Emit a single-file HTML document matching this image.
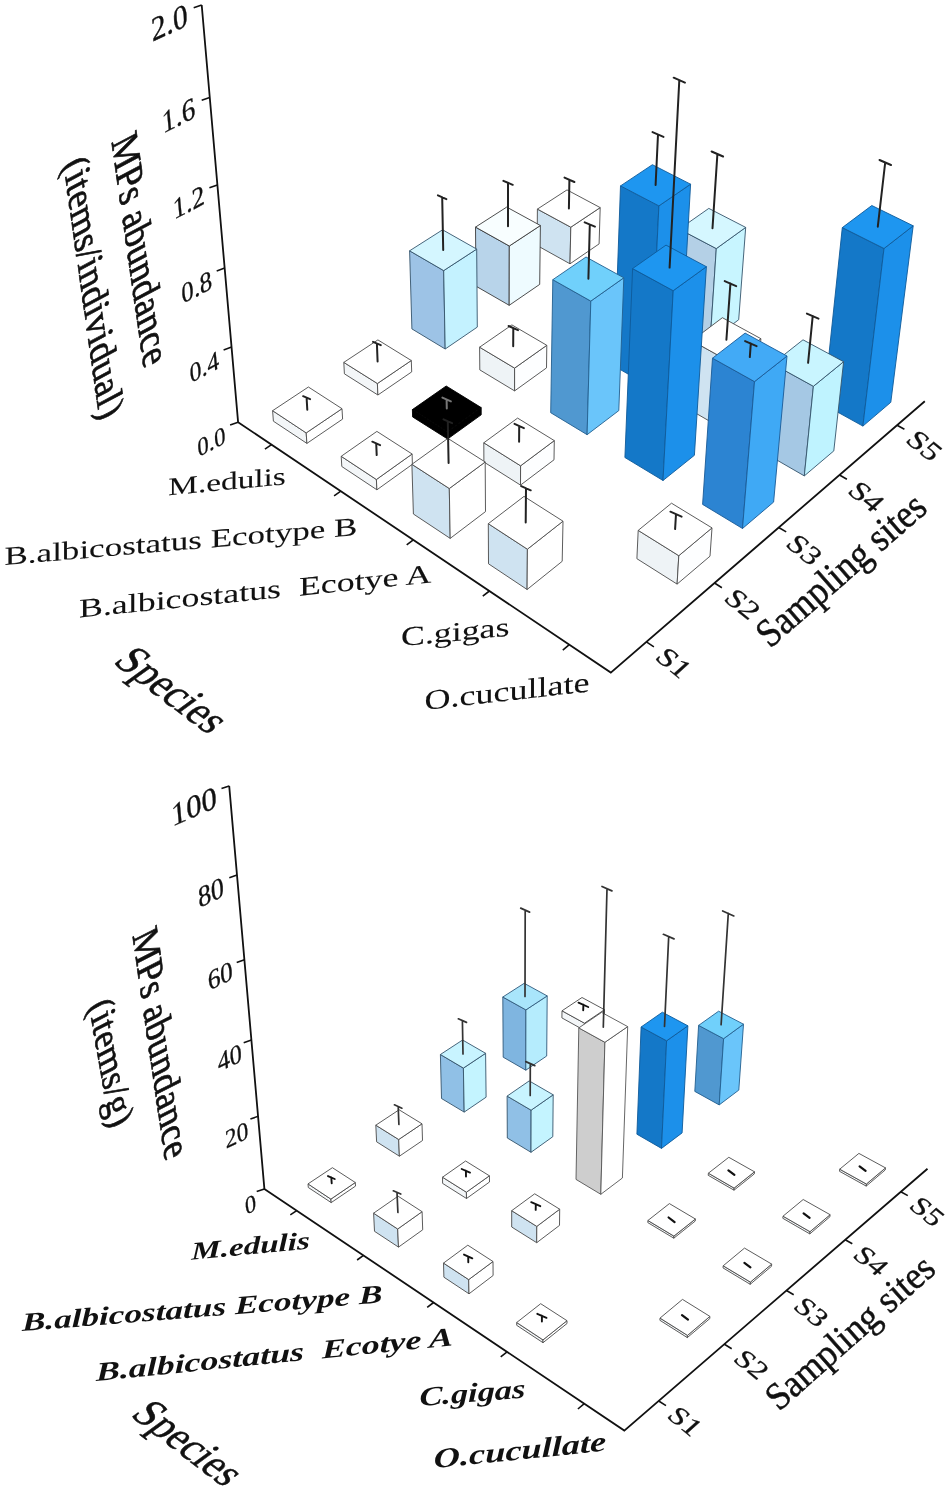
<!DOCTYPE html>
<html><head><meta charset="utf-8"><title>Figure</title>
<style>html,body{margin:0;padding:0;background:#fff}svg{display:block}text{font-family:"Liberation Serif",serif}</style></head>
<body><svg width="950" height="1491" viewBox="0 0 950 1491">
<rect width="950" height="1491" fill="#fff"/>
<path d="M201.7,5.0L238.1,422.2L610.8,672.6L924.8,401.3" stroke="#111" stroke-width="1.8" fill="none" stroke-linejoin="miter"/>
<path d="M238.1,422.2L230.1,425.0M231.6,347.1L223.6,349.9M224.7,268.1L216.7,270.9M217.4,184.9L209.4,187.7M209.7,97.4L201.7,100.2M201.7,5.0L193.7,7.8M271.6,444.7L264.9,449.2M340.8,491.2L334.1,495.9M413.3,539.9L406.7,544.9M489.4,591.0L482.8,596.2M569.3,644.7L562.8,650.2M646.4,641.9L653.9,646.8M714.5,583.0L721.9,587.7M778.7,527.5L786.2,531.9M839.5,475.0L846.9,479.2M897.1,425.2L904.4,429.2" stroke="#111" stroke-width="1.6" fill="none"/>
<polygon points="537.1,245.5 570.0,263.8 570.8,227.2 537.4,209.1" fill="#cfe3f1" stroke="#4a4a4a" stroke-width="0.9" stroke-linejoin="round"/>
<polygon points="570.0,263.8 599.1,243.9 600.2,207.6 570.8,227.2" fill="#ffffff" stroke="#4a4a4a" stroke-width="0.9" stroke-linejoin="round"/>
<polygon points="537.4,209.1 570.8,227.2 600.2,207.6 567.0,189.9" fill="#ffffff" stroke="#4a4a4a" stroke-width="0.9" stroke-linejoin="round"/>
<path d="M568.9,208.4L569.4,179.8M564.5,177.6L574.4,182.0" stroke="#222" stroke-width="2.0" fill="none" stroke-linecap="round"/>
<polygon points="476.0,286.2 509.2,305.3 509.3,246.0 475.5,227.1" fill="#b8d4ea" stroke="#3a3a3a" stroke-width="0.9" stroke-linejoin="round"/>
<polygon points="509.2,305.3 539.7,284.4 540.4,225.5 509.3,246.0" fill="#eefbff" stroke="#3a3a3a" stroke-width="0.9" stroke-linejoin="round"/>
<polygon points="475.5,227.1 509.3,246.0 540.4,225.5 506.7,207.1" fill="#f8feff" stroke="#3a3a3a" stroke-width="0.9" stroke-linejoin="round"/>
<path d="M508.0,226.3L508.0,182.8M503.4,180.8L512.7,184.8" stroke="#222" stroke-width="2.0" fill="none" stroke-linecap="round"/>
<polygon points="674.3,321.5 710.1,341.4 716.3,248.6 679.3,229.1" fill="#b4d0e6" stroke="#34536b" stroke-width="0.9" stroke-linejoin="round"/>
<polygon points="710.1,341.4 738.7,319.7 745.7,227.4 716.3,248.6" fill="#c8f5ff" stroke="#34536b" stroke-width="0.9" stroke-linejoin="round"/>
<polygon points="679.3,229.1 716.3,248.6 745.7,227.4 708.8,208.4" fill="#d5f7ff" stroke="#34536b" stroke-width="0.9" stroke-linejoin="round"/>
<path d="M712.5,228.3L717.4,154.0M711.6,151.5L723.1,156.5" stroke="#222" stroke-width="2.0" fill="none" stroke-linecap="round"/>
<polygon points="411.9,328.9 445.2,349.0 443.7,270.6 409.6,250.8" fill="#9dc3e6" stroke="#34536b" stroke-width="0.9" stroke-linejoin="round"/>
<polygon points="445.2,349.0 477.3,327.1 476.7,249.1 443.7,270.6" fill="#c4f2ff" stroke="#34536b" stroke-width="0.9" stroke-linejoin="round"/>
<polygon points="409.6,250.8 443.7,270.6 476.7,249.1 442.6,229.8" fill="#d4f6ff" stroke="#34536b" stroke-width="0.9" stroke-linejoin="round"/>
<path d="M443.2,250.0L442.2,197.2M437.9,195.3L446.4,199.1" stroke="#222" stroke-width="2.0" fill="none" stroke-linecap="round"/>
<polygon points="614.1,366.0 650.2,386.8 658.9,205.9 620.5,185.9" fill="#1478c8" stroke="#0f5a9a" stroke-width="0.9" stroke-linejoin="round"/>
<polygon points="650.2,386.8 680.3,364.0 690.6,184.2 658.9,205.9" fill="#1c90ea" stroke="#0f5a9a" stroke-width="0.9" stroke-linejoin="round"/>
<polygon points="620.5,185.9 658.9,205.9 690.6,184.2 652.4,164.7" fill="#1e96f0" stroke="#0f5a9a" stroke-width="0.9" stroke-linejoin="round"/>
<path d="M655.6,185.0L658.0,134.5M652.5,132.1L663.5,136.9" stroke="#222" stroke-width="2.0" fill="none" stroke-linecap="round"/>
<polygon points="479.8,369.9 514.6,390.9 514.6,368.1 479.6,347.2" fill="#eef3f6" stroke="#4a4a4a" stroke-width="0.9" stroke-linejoin="round"/>
<polygon points="514.6,390.9 546.5,367.9 546.8,345.3 514.6,368.1" fill="#fdfeff" stroke="#4a4a4a" stroke-width="0.9" stroke-linejoin="round"/>
<polygon points="479.6,347.2 514.6,368.1 546.8,345.3 511.9,324.9" fill="#ffffff" stroke="#4a4a4a" stroke-width="0.9" stroke-linejoin="round"/>
<path d="M513.2,346.2L513.3,328.1M508.6,326.0L518.0,330.2" stroke="#222" stroke-width="2.0" fill="none" stroke-linecap="round"/>
<polygon points="344.4,373.8 377.9,395.0 377.4,383.5 343.8,362.4" fill="#f3f6f8" stroke="#4a4a4a" stroke-width="0.9" stroke-linejoin="round"/>
<polygon points="377.9,395.0 411.7,371.9 411.3,360.5 377.4,383.5" fill="#ffffff" stroke="#4a4a4a" stroke-width="0.9" stroke-linejoin="round"/>
<polygon points="343.8,362.4 377.4,383.5 411.3,360.5 377.9,339.9" fill="#ffffff" stroke="#4a4a4a" stroke-width="0.9" stroke-linejoin="round"/>
<path d="M377.6,361.5L376.9,343.5M373.0,341.8L380.8,345.2" stroke="#222" stroke-width="2.0" fill="none" stroke-linecap="round"/>
<polygon points="823.7,404.4 862.9,426.1 884.0,248.5 842.3,227.6" fill="#1478c8" stroke="#0f5a9a" stroke-width="0.9" stroke-linejoin="round"/>
<polygon points="862.9,426.1 890.8,402.3 913.2,225.8 884.0,248.5" fill="#1c90ea" stroke="#0f5a9a" stroke-width="0.9" stroke-linejoin="round"/>
<polygon points="842.3,227.6 884.0,248.5 913.2,225.8 871.8,205.5" fill="#1e96f0" stroke="#0f5a9a" stroke-width="0.9" stroke-linejoin="round"/>
<path d="M877.8,226.7L885.2,162.5M879.5,160.0L891.0,165.0" stroke="#222" stroke-width="2.0" fill="none" stroke-linecap="round"/>
<polygon points="687.7,408.5 725.5,430.4 730.5,362.2 691.9,340.7" fill="#cfe3f1" stroke="#4a4a4a" stroke-width="0.9" stroke-linejoin="round"/>
<polygon points="725.5,430.4 755.3,406.5 760.9,338.7 730.5,362.2" fill="#ffffff" stroke="#4a4a4a" stroke-width="0.9" stroke-linejoin="round"/>
<polygon points="691.9,340.7 730.5,362.2 760.9,338.7 722.4,317.7" fill="#ffffff" stroke="#4a4a4a" stroke-width="0.9" stroke-linejoin="round"/>
<path d="M726.4,339.7L730.4,283.6M724.7,281.1L736.2,286.1" stroke="#222" stroke-width="2.0" fill="none" stroke-linecap="round"/>
<polygon points="550.7,412.7 587.1,434.7 590.8,301.1 552.8,279.7" fill="#5098d0" stroke="#235f8f" stroke-width="0.9" stroke-linejoin="round"/>
<polygon points="587.1,434.7 618.8,410.6 623.8,277.8 590.8,301.1" fill="#6ac5fa" stroke="#235f8f" stroke-width="0.9" stroke-linejoin="round"/>
<polygon points="552.8,279.7 590.8,301.1 623.8,277.8 586.0,257.0" fill="#70d0fb" stroke="#235f8f" stroke-width="0.9" stroke-linejoin="round"/>
<path d="M588.4,278.7L589.8,224.5M584.7,222.3L594.9,226.7" stroke="#222" stroke-width="2.0" fill="none" stroke-linecap="round"/>
<polygon points="412.6,416.9 447.6,439.0 447.4,431.7 412.4,409.6" fill="#000000" stroke="#000000" stroke-width="0.9" stroke-linejoin="round"/>
<polygon points="447.6,439.0 481.2,414.8 481.2,407.6 447.4,431.7" fill="#000000" stroke="#000000" stroke-width="0.9" stroke-linejoin="round"/>
<polygon points="412.4,409.6 447.4,431.7 481.2,407.6 446.2,386.0" fill="#000000" stroke="#000000" stroke-width="0.9" stroke-linejoin="round"/>
<path d="M446.8,408.6L446.6,399.5M442.4,397.6L450.9,401.4" stroke="#777" stroke-width="2.0" fill="none" stroke-linecap="round"/>
<polygon points="273.4,421.2 306.9,443.4 306.2,432.9 272.6,410.7" fill="#f3f6f8" stroke="#4a4a4a" stroke-width="0.9" stroke-linejoin="round"/>
<polygon points="306.9,443.4 342.6,419.1 342.0,408.7 306.2,432.9" fill="#ffffff" stroke="#4a4a4a" stroke-width="0.9" stroke-linejoin="round"/>
<polygon points="272.6,410.7 306.2,432.9 342.0,408.7 308.4,387.0" fill="#ffffff" stroke="#4a4a4a" stroke-width="0.9" stroke-linejoin="round"/>
<path d="M307.3,409.7L306.6,397.7M303.1,396.2L310.1,399.2" stroke="#222" stroke-width="2.0" fill="none" stroke-linecap="round"/>
<polygon points="764.8,453.1 804.3,475.9 813.4,386.3 772.6,363.8" fill="#a5c8e4" stroke="#34536b" stroke-width="0.9" stroke-linejoin="round"/>
<polygon points="804.3,475.9 833.8,450.9 843.6,361.7 813.4,386.3" fill="#bff3ff" stroke="#34536b" stroke-width="0.9" stroke-linejoin="round"/>
<polygon points="772.6,363.8 813.4,386.3 843.6,361.7 803.0,339.8" fill="#c9f5ff" stroke="#34536b" stroke-width="0.9" stroke-linejoin="round"/>
<path d="M808.1,362.8L812.7,316.1M806.9,313.6L818.5,318.6" stroke="#222" stroke-width="2.0" fill="none" stroke-linecap="round"/>
<polygon points="624.9,457.5 663.0,480.5 673.2,290.7 632.6,268.6" fill="#1478c8" stroke="#0f5a9a" stroke-width="0.9" stroke-linejoin="round"/>
<polygon points="663.0,480.5 694.4,455.3 706.4,266.7 673.2,290.7" fill="#1c90ea" stroke="#0f5a9a" stroke-width="0.9" stroke-linejoin="round"/>
<polygon points="632.6,268.6 673.2,290.7 706.4,266.7 666.0,245.1" fill="#1e96f0" stroke="#0f5a9a" stroke-width="0.9" stroke-linejoin="round"/>
<path d="M669.6,267.6L679.3,80.2M673.7,77.7L684.9,82.7" stroke="#222" stroke-width="2.0" fill="none" stroke-linecap="round"/>
<polygon points="483.9,462.0 520.5,485.1 520.6,465.8 483.8,442.8" fill="#eef3f6" stroke="#4a4a4a" stroke-width="0.9" stroke-linejoin="round"/>
<polygon points="520.5,485.1 554.0,459.8 554.3,440.6 520.6,465.8" fill="#fdfeff" stroke="#4a4a4a" stroke-width="0.9" stroke-linejoin="round"/>
<polygon points="483.8,442.8 520.6,465.8 554.3,440.6 517.6,418.1" fill="#ffffff" stroke="#4a4a4a" stroke-width="0.9" stroke-linejoin="round"/>
<path d="M519.1,441.7L519.2,426.0M514.5,423.9L523.9,428.1" stroke="#222" stroke-width="2.0" fill="none" stroke-linecap="round"/>
<polygon points="341.8,466.5 376.9,489.8 376.4,479.5 341.2,456.3" fill="#f3f6f8" stroke="#4a4a4a" stroke-width="0.9" stroke-linejoin="round"/>
<polygon points="376.9,489.8 412.4,464.3 412.1,454.0 376.4,479.5" fill="#ffffff" stroke="#4a4a4a" stroke-width="0.9" stroke-linejoin="round"/>
<polygon points="341.2,456.3 376.4,479.5 412.1,454.0 376.9,431.4" fill="#ffffff" stroke="#4a4a4a" stroke-width="0.9" stroke-linejoin="round"/>
<path d="M376.7,455.1L376.2,443.4M372.3,441.7L380.1,445.1" stroke="#222" stroke-width="2.0" fill="none" stroke-linecap="round"/>
<polygon points="702.6,504.4 742.5,528.5 754.5,381.6 712.5,358.2" fill="#2c84d2" stroke="#1a5a96" stroke-width="0.9" stroke-linejoin="round"/>
<polygon points="742.5,528.5 773.6,502.1 787.0,356.0 754.5,381.6" fill="#3fa9f5" stroke="#1a5a96" stroke-width="0.9" stroke-linejoin="round"/>
<polygon points="712.5,358.2 754.5,381.6 787.0,356.0 745.1,333.1" fill="#42aaf6" stroke="#1a5a96" stroke-width="0.9" stroke-linejoin="round"/>
<path d="M749.8,357.1L750.8,343.6M745.1,341.1L756.6,346.1" stroke="#222" stroke-width="2.0" fill="none" stroke-linecap="round"/>
<polygon points="413.4,514.0 450.2,538.4 449.3,488.5 411.9,464.3" fill="#cfe3f1" stroke="#4a4a4a" stroke-width="0.9" stroke-linejoin="round"/>
<polygon points="450.2,538.4 485.5,511.6 485.2,462.0 449.3,488.5" fill="#ffffff" stroke="#4a4a4a" stroke-width="0.9" stroke-linejoin="round"/>
<polygon points="411.9,464.3 449.3,488.5 485.2,462.0 447.9,438.4" fill="#ffffff" stroke="#4a4a4a" stroke-width="0.9" stroke-linejoin="round"/>
<path d="M448.6,463.1L447.8,421.2M443.5,419.3L452.1,423.1" stroke="#222" stroke-width="2.0" fill="none" stroke-linecap="round"/>
<polygon points="636.9,558.7 677.1,584.1 678.8,555.7 638.2,530.4" fill="#eef3f6" stroke="#4a4a4a" stroke-width="0.9" stroke-linejoin="round"/>
<polygon points="677.1,584.1 710.0,556.2 712.0,527.9 678.8,555.7" fill="#fdfeff" stroke="#4a4a4a" stroke-width="0.9" stroke-linejoin="round"/>
<polygon points="638.2,530.4 678.8,555.7 712.0,527.9 671.5,503.2" fill="#ffffff" stroke="#4a4a4a" stroke-width="0.9" stroke-linejoin="round"/>
<path d="M675.1,529.1L676.0,514.2M670.4,511.7L681.6,516.7" stroke="#222" stroke-width="2.0" fill="none" stroke-linecap="round"/>
<polygon points="488.5,563.8 527.1,589.5 527.4,549.2 488.3,523.7" fill="#cfe3f1" stroke="#4a4a4a" stroke-width="0.9" stroke-linejoin="round"/>
<polygon points="527.1,589.5 562.2,561.3 563.0,521.2 527.4,549.2" fill="#ffffff" stroke="#4a4a4a" stroke-width="0.9" stroke-linejoin="round"/>
<polygon points="488.3,523.7 527.4,549.2 563.0,521.2 524.0,496.4" fill="#ffffff" stroke="#4a4a4a" stroke-width="0.9" stroke-linejoin="round"/>
<path d="M525.7,522.5L526.0,488.2M521.2,486.1L530.7,490.3" stroke="#222" stroke-width="2.0" fill="none" stroke-linecap="round"/>
<text transform="matrix(0.9063 -0.4226 0.0928 1.0312 152.2 41.8)" font-size="32" text-anchor="start" style="" fill="#111" stroke="#111" stroke-width="0.35" xml:space="preserve">2.0</text>
<text transform="matrix(0.8214 -0.4185 0.0858 0.9531 163.1 133.7)" font-size="32" text-anchor="start" style="" fill="#111" stroke="#111" stroke-width="0.35" xml:space="preserve">1.6</text>
<text transform="matrix(0.7781 -0.4137 0.0802 0.8906 174.0 219.8)" font-size="32" text-anchor="start" style="" fill="#111" stroke="#111" stroke-width="0.35" xml:space="preserve">1.2</text>
<text transform="matrix(0.7588 -0.4035 0.0773 0.8594 182.3 304.1)" font-size="32" text-anchor="start" style="" fill="#111" stroke="#111" stroke-width="0.35" xml:space="preserve">0.8</text>
<text transform="matrix(0.7257 -0.3858 0.0740 0.8219 190.5 383.2)" font-size="32" text-anchor="start" style="" fill="#111" stroke="#111" stroke-width="0.35" xml:space="preserve">0.4</text>
<text transform="matrix(0.6953 -0.3697 0.0709 0.7875 198.2 457.3)" font-size="32" text-anchor="start" style="" fill="#111" stroke="#111" stroke-width="0.35" xml:space="preserve">0.0</text>
<text transform="matrix(0.1597 1.1203 -1.1719 0.6250 111.5 142.0)" font-size="32" text-anchor="start" style="" fill="#111" stroke="#111" stroke-width="0.55" xml:space="preserve">MPs abundance</text>
<text transform="matrix(0.1592 1.1252 -1.1250 0.6000 63.5 164.5)" font-size="32" text-anchor="start" style="" fill="#111" stroke="#111" stroke-width="0.55" xml:space="preserve">(items/individual)</text>
<text transform="matrix(1.0408 -0.0983 0.0000 0.7812 168.3 495.3)" font-size="32" text-anchor="start" style="" fill="#111" stroke="#111" stroke-width="0.1" xml:space="preserve">M.edulis</text>
<text transform="matrix(1.0942 -0.0930 0.0000 0.8125 4.5 565.0)" font-size="32" text-anchor="start" style="" fill="#111" stroke="#111" stroke-width="0.1" xml:space="preserve">B.albicostatus Ecotype B</text>
<text transform="matrix(1.1201 -0.1112 0.0000 0.8281 79.0 617.5)" font-size="32" text-anchor="start" style="" fill="#111" stroke="#111" stroke-width="0.1" xml:space="preserve">B.albicostatus  Ecotye A</text>
<text transform="matrix(1.1198 -0.1042 0.0000 0.8438 401.0 645.9)" font-size="32" text-anchor="start" style="" fill="#111" stroke="#111" stroke-width="0.1" xml:space="preserve">C.gigas</text>
<text transform="matrix(1.1262 -0.1262 0.0000 0.8750 424.6 709.9)" font-size="32" text-anchor="start" style="" fill="#111" stroke="#111" stroke-width="0.1" xml:space="preserve">O.cucullate</text>
<text transform="matrix(0.9872 0.7417 -1.1630 0.8449 112.0 662.5)" font-size="32" text-anchor="start" style="" fill="#111" stroke="#111" stroke-width="0.4" xml:space="preserve">Species</text>
<text transform="matrix(0.8477 -0.7384 0.8234 0.9405 770.0 649.0)" font-size="32" text-anchor="start" style="" fill="#111" stroke="#111" stroke-width="0.4" xml:space="preserve">Sampling sites</text>
<text transform="matrix(0.7891 0.6390 -0.6438 0.5813 653.7 658.2)" font-size="32" text-anchor="start" style="" fill="#111" stroke="#111" stroke-width="0.35" xml:space="preserve">S1</text>
<text transform="matrix(0.7891 0.6390 -0.6438 0.5813 722.4 599.4)" font-size="32" text-anchor="start" style="" fill="#111" stroke="#111" stroke-width="0.35" xml:space="preserve">S2</text>
<text transform="matrix(0.7891 0.6390 -0.6438 0.5813 784.3 545.1)" font-size="32" text-anchor="start" style="" fill="#111" stroke="#111" stroke-width="0.35" xml:space="preserve">S3</text>
<text transform="matrix(0.7891 0.6390 -0.6438 0.5813 846.2 492.0)" font-size="32" text-anchor="start" style="" fill="#111" stroke="#111" stroke-width="0.35" xml:space="preserve">S4</text>
<text transform="matrix(0.7891 0.6390 -0.6438 0.5813 904.3 441.0)" font-size="32" text-anchor="start" style="" fill="#111" stroke="#111" stroke-width="0.35" xml:space="preserve">S5</text>
<path d="M229.2,785.9L264.4,1188.9L624.3,1430.6L927.5,1168.7" stroke="#111" stroke-width="1.8" fill="none" stroke-linejoin="miter"/>
<path d="M264.4,1188.9L256.7,1191.6M258.1,1116.3L250.4,1119.0M251.4,1040.0L243.7,1042.7M244.4,959.7L236.7,962.4M237.0,875.1L229.3,877.8M229.2,785.9L221.5,788.6M296.7,1210.6L290.3,1214.9M363.5,1255.4L357.1,1260.0M433.6,1302.5L427.2,1307.3M507.1,1351.9L500.7,1356.9M584.3,1403.7L577.9,1409.0M658.7,1401.0L666.0,1405.7M724.4,1344.2L731.7,1348.7M786.5,1290.5L793.7,1294.8M845.2,1239.8L852.3,1243.8M900.8,1191.7L907.8,1195.6" stroke="#111" stroke-width="1.6" fill="none"/>
<polygon points="561.9,1017.9 584.4,1030.4 584.5,1023.2 562.0,1010.8" fill="#f3f6f8" stroke="#4a4a4a" stroke-width="0.9" stroke-linejoin="round"/>
<polygon points="584.4,1030.4 604.3,1016.9 604.5,1009.7 584.5,1023.2" fill="#ffffff" stroke="#4a4a4a" stroke-width="0.9" stroke-linejoin="round"/>
<polygon points="562.0,1010.8 584.5,1023.2 604.5,1009.7 582.0,997.5" fill="#ffffff" stroke="#4a4a4a" stroke-width="0.9" stroke-linejoin="round"/>
<path d="M583.2,1010.3L583.4,1004.8M578.5,1002.7L588.2,1007.0" stroke="#111" stroke-width="1.9" fill="none" stroke-linecap="round"/>
<polygon points="503.2,1057.2 525.8,1070.2 525.9,1009.9 502.8,997.0" fill="#7fb5e0" stroke="#2f587a" stroke-width="0.9" stroke-linejoin="round"/>
<polygon points="525.8,1070.2 546.7,1056.0 547.2,995.9 525.9,1009.9" fill="#b5ecfd" stroke="#2f587a" stroke-width="0.9" stroke-linejoin="round"/>
<polygon points="502.8,997.0 525.9,1009.9 547.2,995.9 524.2,983.3" fill="#a9e5fb" stroke="#2f587a" stroke-width="0.9" stroke-linejoin="round"/>
<path d="M525.0,996.5L525.2,910.1M520.7,908.1L529.6,912.1" stroke="#333" stroke-width="1.7" fill="none" stroke-linecap="round"/>
<polygon points="694.8,1091.4 719.2,1104.9 723.6,1038.7 698.6,1025.4" fill="#5098d0" stroke="#235f8f" stroke-width="0.9" stroke-linejoin="round"/>
<polygon points="719.2,1104.9 738.8,1090.1 743.5,1024.2 723.6,1038.7" fill="#6ac5fa" stroke="#235f8f" stroke-width="0.9" stroke-linejoin="round"/>
<polygon points="698.6,1025.4 723.6,1038.7 743.5,1024.2 718.6,1011.2" fill="#70d0fb" stroke="#235f8f" stroke-width="0.9" stroke-linejoin="round"/>
<path d="M721.1,1024.8L728.3,913.4M722.7,910.9L733.8,915.9" stroke="#333" stroke-width="1.7" fill="none" stroke-linecap="round"/>
<polygon points="441.5,1098.5 464.2,1112.1 463.4,1068.1 440.4,1054.5" fill="#90c0e6" stroke="#34536b" stroke-width="0.9" stroke-linejoin="round"/>
<polygon points="464.2,1112.1 486.1,1097.2 485.6,1053.3 463.4,1068.1" fill="#c4f4ff" stroke="#34536b" stroke-width="0.9" stroke-linejoin="round"/>
<polygon points="440.4,1054.5 463.4,1068.1 485.6,1053.3 462.6,1040.0" fill="#c8f4ff" stroke="#34536b" stroke-width="0.9" stroke-linejoin="round"/>
<path d="M463.0,1053.9L462.4,1020.6M458.3,1018.8L466.5,1022.4" stroke="#333" stroke-width="1.7" fill="none" stroke-linecap="round"/>
<polygon points="636.9,1134.2 661.5,1148.4 666.6,1040.8 641.1,1027.0" fill="#1478c8" stroke="#0f5a9a" stroke-width="0.9" stroke-linejoin="round"/>
<polygon points="661.5,1148.4 682.1,1132.9 687.9,1025.8 666.6,1040.8" fill="#1c90ea" stroke="#0f5a9a" stroke-width="0.9" stroke-linejoin="round"/>
<polygon points="641.1,1027.0 666.6,1040.8 687.9,1025.8 662.4,1012.2" fill="#1e96f0" stroke="#0f5a9a" stroke-width="0.9" stroke-linejoin="round"/>
<path d="M664.5,1026.4L668.7,936.6M663.4,934.3L674.0,938.9" stroke="#333" stroke-width="1.7" fill="none" stroke-linecap="round"/>
<polygon points="507.3,1138.0 531.0,1152.3 531.1,1110.2 507.1,1096.1" fill="#90c0e6" stroke="#34536b" stroke-width="0.9" stroke-linejoin="round"/>
<polygon points="531.0,1152.3 552.8,1136.7 553.2,1094.8 531.1,1110.2" fill="#c4f4ff" stroke="#34536b" stroke-width="0.9" stroke-linejoin="round"/>
<polygon points="507.1,1096.1 531.1,1110.2 553.2,1094.8 529.2,1080.9" fill="#c8f4ff" stroke="#34536b" stroke-width="0.9" stroke-linejoin="round"/>
<path d="M530.2,1095.4L530.3,1063.6M525.8,1061.6L534.8,1065.6" stroke="#333" stroke-width="1.7" fill="none" stroke-linecap="round"/>
<polygon points="376.6,1141.8 399.4,1156.2 398.7,1139.5 375.8,1125.2" fill="#cfe3f1" stroke="#4a4a4a" stroke-width="0.9" stroke-linejoin="round"/>
<polygon points="399.4,1156.2 422.5,1140.5 422.0,1123.8 398.7,1139.5" fill="#ffffff" stroke="#4a4a4a" stroke-width="0.9" stroke-linejoin="round"/>
<polygon points="375.8,1125.2 398.7,1139.5 422.0,1123.8 399.1,1109.8" fill="#ffffff" stroke="#4a4a4a" stroke-width="0.9" stroke-linejoin="round"/>
<path d="M398.9,1124.5L398.2,1106.5M394.4,1104.8L401.9,1108.2" stroke="#333" stroke-width="1.7" fill="none" stroke-linecap="round"/>
<polygon points="839.5,1171.3 866.2,1186.1 866.4,1184.0 839.7,1169.2" fill="#f3f6f8" stroke="#4a4a4a" stroke-width="0.9" stroke-linejoin="round"/>
<polygon points="866.2,1186.1 885.2,1170.0 885.5,1167.9 866.4,1184.0" fill="#ffffff" stroke="#4a4a4a" stroke-width="0.9" stroke-linejoin="round"/>
<polygon points="839.7,1169.2 866.4,1184.0 885.5,1167.9 858.9,1153.4" fill="#ffffff" stroke="#4a4a4a" stroke-width="0.9" stroke-linejoin="round"/>
<path d="M859.6,1166.3L865.6,1170.9" stroke="#111" stroke-width="2.2" fill="none" stroke-linecap="round"/>
<polygon points="708.2,1175.3 734.0,1190.2 734.1,1188.1 708.4,1173.2" fill="#f3f6f8" stroke="#4a4a4a" stroke-width="0.9" stroke-linejoin="round"/>
<polygon points="734.0,1190.2 754.3,1173.9 754.5,1171.8 734.1,1188.1" fill="#ffffff" stroke="#4a4a4a" stroke-width="0.9" stroke-linejoin="round"/>
<polygon points="708.4,1173.2 734.1,1188.1 754.5,1171.8 728.8,1157.3" fill="#ffffff" stroke="#4a4a4a" stroke-width="0.9" stroke-linejoin="round"/>
<path d="M728.4,1170.3L734.4,1174.9" stroke="#111" stroke-width="2.2" fill="none" stroke-linecap="round"/>
<polygon points="576.0,1179.4 600.8,1194.3 604.9,1042.3 578.8,1027.9" fill="#cecece" stroke="#555555" stroke-width="0.9" stroke-linejoin="round"/>
<polygon points="600.8,1194.3 622.4,1178.0 627.7,1026.6 604.9,1042.3" fill="#ffffff" stroke="#555555" stroke-width="0.9" stroke-linejoin="round"/>
<polygon points="578.8,1027.9 604.9,1042.3 627.7,1026.6 601.6,1012.4" fill="#ffffff" stroke="#555555" stroke-width="0.9" stroke-linejoin="round"/>
<path d="M603.3,1027.2L607.0,888.7M602.0,886.5L611.9,890.9" stroke="#333" stroke-width="1.7" fill="none" stroke-linecap="round"/>
<polygon points="442.6,1183.4 466.5,1198.5 466.4,1192.2 442.5,1177.2" fill="#f3f6f8" stroke="#4a4a4a" stroke-width="0.9" stroke-linejoin="round"/>
<polygon points="466.5,1198.5 489.5,1182.0 489.4,1175.8 466.4,1192.2" fill="#ffffff" stroke="#4a4a4a" stroke-width="0.9" stroke-linejoin="round"/>
<polygon points="442.5,1177.2 466.4,1192.2 489.4,1175.8 465.6,1161.0" fill="#ffffff" stroke="#4a4a4a" stroke-width="0.9" stroke-linejoin="round"/>
<path d="M466.0,1176.5L465.9,1170.8M461.7,1169.0L470.0,1172.6" stroke="#111" stroke-width="1.9" fill="none" stroke-linecap="round"/>
<polygon points="308.3,1187.5 331.2,1202.6 330.9,1199.1 308.0,1183.9" fill="#f3f6f8" stroke="#4a4a4a" stroke-width="0.9" stroke-linejoin="round"/>
<polygon points="331.2,1202.6 355.5,1186.1 355.3,1182.5 330.9,1199.1" fill="#ffffff" stroke="#4a4a4a" stroke-width="0.9" stroke-linejoin="round"/>
<polygon points="308.0,1183.9 330.9,1199.1 355.3,1182.5 332.4,1167.7" fill="#ffffff" stroke="#4a4a4a" stroke-width="0.9" stroke-linejoin="round"/>
<path d="M331.7,1183.2L331.3,1177.5M328.0,1176.1L334.7,1179.0" stroke="#111" stroke-width="1.9" fill="none" stroke-linecap="round"/>
<polygon points="782.8,1218.3 809.8,1233.9 810.0,1231.7 783.0,1216.2" fill="#f3f6f8" stroke="#4a4a4a" stroke-width="0.9" stroke-linejoin="round"/>
<polygon points="809.8,1233.9 829.9,1216.8 830.1,1214.7 810.0,1231.7" fill="#ffffff" stroke="#4a4a4a" stroke-width="0.9" stroke-linejoin="round"/>
<polygon points="783.0,1216.2 810.0,1231.7 830.1,1214.7 803.2,1199.5" fill="#ffffff" stroke="#4a4a4a" stroke-width="0.9" stroke-linejoin="round"/>
<path d="M803.6,1213.3L809.6,1217.9" stroke="#111" stroke-width="2.2" fill="none" stroke-linecap="round"/>
<polygon points="647.8,1222.6 673.8,1238.2 673.9,1236.1 647.9,1220.5" fill="#f3f6f8" stroke="#4a4a4a" stroke-width="0.9" stroke-linejoin="round"/>
<polygon points="673.8,1238.2 695.2,1221.1 695.4,1219.0 673.9,1236.1" fill="#ffffff" stroke="#4a4a4a" stroke-width="0.9" stroke-linejoin="round"/>
<polygon points="647.9,1220.5 673.9,1236.1 695.4,1219.0 669.4,1203.6" fill="#ffffff" stroke="#4a4a4a" stroke-width="0.9" stroke-linejoin="round"/>
<path d="M668.6,1217.5L674.6,1222.1" stroke="#111" stroke-width="2.2" fill="none" stroke-linecap="round"/>
<polygon points="511.7,1227.0 536.7,1242.7 536.8,1226.4 511.7,1210.7" fill="#cfe3f1" stroke="#4a4a4a" stroke-width="0.9" stroke-linejoin="round"/>
<polygon points="536.7,1242.7 559.5,1225.4 559.7,1209.2 536.8,1226.4" fill="#ffffff" stroke="#4a4a4a" stroke-width="0.9" stroke-linejoin="round"/>
<polygon points="511.7,1210.7 536.8,1226.4 559.7,1209.2 534.7,1193.8" fill="#ffffff" stroke="#4a4a4a" stroke-width="0.9" stroke-linejoin="round"/>
<path d="M535.7,1209.9L535.8,1204.2M531.2,1202.2L540.3,1206.2" stroke="#111" stroke-width="1.9" fill="none" stroke-linecap="round"/>
<polygon points="374.5,1231.3 398.5,1247.1 397.7,1229.0 373.6,1213.2" fill="#cfe3f1" stroke="#4a4a4a" stroke-width="0.9" stroke-linejoin="round"/>
<polygon points="398.5,1247.1 422.7,1229.8 422.1,1211.7 397.7,1229.0" fill="#ffffff" stroke="#4a4a4a" stroke-width="0.9" stroke-linejoin="round"/>
<polygon points="373.6,1213.2 397.7,1229.0 422.1,1211.7 398.1,1196.2" fill="#ffffff" stroke="#4a4a4a" stroke-width="0.9" stroke-linejoin="round"/>
<path d="M397.9,1212.5L397.0,1192.4M393.3,1190.8L400.8,1194.0" stroke="#333" stroke-width="1.7" fill="none" stroke-linecap="round"/>
<polygon points="723.0,1267.9 750.2,1284.3 750.4,1282.1 723.2,1265.8" fill="#f3f6f8" stroke="#4a4a4a" stroke-width="0.9" stroke-linejoin="round"/>
<polygon points="750.2,1284.3 771.5,1266.3 771.7,1264.1 750.4,1282.1" fill="#ffffff" stroke="#4a4a4a" stroke-width="0.9" stroke-linejoin="round"/>
<polygon points="723.2,1265.8 750.4,1282.1 771.7,1264.1 744.5,1248.1" fill="#ffffff" stroke="#4a4a4a" stroke-width="0.9" stroke-linejoin="round"/>
<path d="M744.4,1262.8L750.4,1267.4" stroke="#111" stroke-width="2.2" fill="none" stroke-linecap="round"/>
<polygon points="443.9,1277.2 469.0,1293.8 468.7,1279.6 443.5,1263.1" fill="#cfe3f1" stroke="#4a4a4a" stroke-width="0.9" stroke-linejoin="round"/>
<polygon points="469.0,1293.8 493.1,1275.5 493.0,1261.5 468.7,1279.6" fill="#ffffff" stroke="#4a4a4a" stroke-width="0.9" stroke-linejoin="round"/>
<polygon points="443.5,1263.1 468.7,1279.6 493.0,1261.5 467.8,1245.2" fill="#ffffff" stroke="#4a4a4a" stroke-width="0.9" stroke-linejoin="round"/>
<path d="M468.3,1262.3L468.2,1256.5M464.0,1254.6L472.3,1258.3" stroke="#111" stroke-width="1.9" fill="none" stroke-linecap="round"/>
<polygon points="659.9,1320.3 687.3,1337.6 687.5,1335.4 660.0,1318.1" fill="#f3f6f8" stroke="#4a4a4a" stroke-width="0.9" stroke-linejoin="round"/>
<polygon points="687.3,1337.6 709.8,1318.6 709.9,1316.4 687.5,1335.4" fill="#ffffff" stroke="#4a4a4a" stroke-width="0.9" stroke-linejoin="round"/>
<polygon points="660.0,1318.1 687.5,1335.4 709.9,1316.4 682.5,1299.4" fill="#ffffff" stroke="#4a4a4a" stroke-width="0.9" stroke-linejoin="round"/>
<path d="M682.0,1315.1L688.0,1319.7" stroke="#111" stroke-width="2.2" fill="none" stroke-linecap="round"/>
<polygon points="516.7,1325.3 543.0,1342.7 543.0,1339.9 516.7,1322.5" fill="#f3f6f8" stroke="#4a4a4a" stroke-width="0.9" stroke-linejoin="round"/>
<polygon points="543.0,1342.7 567.0,1323.5 567.0,1320.7 543.0,1339.9" fill="#ffffff" stroke="#4a4a4a" stroke-width="0.9" stroke-linejoin="round"/>
<polygon points="516.7,1322.5 543.0,1339.9 567.0,1320.7 540.7,1303.7" fill="#ffffff" stroke="#4a4a4a" stroke-width="0.9" stroke-linejoin="round"/>
<path d="M541.9,1321.6L541.9,1315.8M537.3,1313.8L546.5,1317.8" stroke="#111" stroke-width="1.9" fill="none" stroke-linecap="round"/>
<text transform="matrix(0.9421 -0.4194 0.0886 0.9844 172.3 826.8)" font-size="32" text-anchor="start" style="" fill="#111" stroke="#111" stroke-width="0.35" xml:space="preserve">100</text>
<text transform="matrix(0.8039 -0.3834 0.0816 0.9062 199.0 907.9)" font-size="32" text-anchor="start" style="" fill="#111" stroke="#111" stroke-width="0.35" xml:space="preserve">80</text>
<text transform="matrix(0.7757 -0.3700 0.0773 0.8594 208.7 990.7)" font-size="32" text-anchor="start" style="" fill="#111" stroke="#111" stroke-width="0.35" xml:space="preserve">60</text>
<text transform="matrix(0.7475 -0.3565 0.0745 0.8281 218.5 1072.1)" font-size="32" text-anchor="start" style="" fill="#111" stroke="#111" stroke-width="0.35" xml:space="preserve">40</text>
<text transform="matrix(0.7164 -0.3417 0.0714 0.7937 226.0 1148.7)" font-size="32" text-anchor="start" style="" fill="#111" stroke="#111" stroke-width="0.35" xml:space="preserve">20</text>
<text transform="matrix(0.6854 -0.3269 0.0683 0.7594 245.7 1215.1)" font-size="32" text-anchor="start" style="" fill="#111" stroke="#111" stroke-width="0.35" xml:space="preserve">0</text>
<text transform="matrix(0.1612 1.1129 -1.1375 0.5750 132.5 936.0)" font-size="32" text-anchor="start" style="" fill="#111" stroke="#111" stroke-width="0.55" xml:space="preserve">MPs abundance</text>
<text transform="matrix(0.1887 1.0741 -1.0938 0.5625 88.9 1006.1)" font-size="32" text-anchor="start" style="" fill="#111" stroke="#111" stroke-width="0.55" xml:space="preserve">(items/g)</text>
<text transform="matrix(1.0341 -0.0968 0.0000 0.7812 191.3 1259.7)" font-size="32" text-anchor="start" style="font-style:italic;font-weight:bold" fill="#111" stroke="#111" stroke-width="0.0" xml:space="preserve">M.edulis</text>
<text transform="matrix(1.0994 -0.0872 0.0000 0.8125 21.9 1331.1)" font-size="32" text-anchor="start" style="font-style:italic;font-weight:bold" fill="#111" stroke="#111" stroke-width="0.0" xml:space="preserve">B.albicostatus Ecotype B</text>
<text transform="matrix(1.1198 -0.1120 0.0000 0.8281 96.0 1381.0)" font-size="32" text-anchor="start" style="font-style:italic;font-weight:bold" fill="#111" stroke="#111" stroke-width="0.0" xml:space="preserve">B.albicostatus  Ecotye A</text>
<text transform="matrix(1.0751 -0.0851 0.0000 0.8438 419.4 1405.9)" font-size="32" text-anchor="start" style="font-style:italic;font-weight:bold" fill="#111" stroke="#111" stroke-width="0.0" xml:space="preserve">C.gigas</text>
<text transform="matrix(1.1350 -0.1151 0.0000 0.8750 433.8 1468.2)" font-size="32" text-anchor="start" style="font-style:italic;font-weight:bold" fill="#111" stroke="#111" stroke-width="0.0" xml:space="preserve">O.cucullate</text>
<text transform="matrix(0.9668 0.7386 -1.1377 0.8266 129.5 1415.6)" font-size="32" text-anchor="start" style="" fill="#111" stroke="#111" stroke-width="0.4" xml:space="preserve">Species</text>
<text transform="matrix(0.8456 -0.7491 0.7993 0.9034 779.0 1412.0)" font-size="32" text-anchor="start" style="" fill="#111" stroke="#111" stroke-width="0.4" xml:space="preserve">Sampling sites</text>
<text transform="matrix(0.7620 0.6171 -0.6217 0.5613 665.7 1416.7)" font-size="32" text-anchor="start" style="" fill="#111" stroke="#111" stroke-width="0.35" xml:space="preserve">S1</text>
<text transform="matrix(0.7620 0.6171 -0.6217 0.5613 732.1 1360.0)" font-size="32" text-anchor="start" style="" fill="#111" stroke="#111" stroke-width="0.35" xml:space="preserve">S2</text>
<text transform="matrix(0.7620 0.6171 -0.6217 0.5613 791.9 1307.5)" font-size="32" text-anchor="start" style="" fill="#111" stroke="#111" stroke-width="0.35" xml:space="preserve">S3</text>
<text transform="matrix(0.7620 0.6171 -0.6217 0.5613 851.6 1256.2)" font-size="32" text-anchor="start" style="" fill="#111" stroke="#111" stroke-width="0.35" xml:space="preserve">S4</text>
<text transform="matrix(0.7620 0.6171 -0.6217 0.5613 907.7 1207.0)" font-size="32" text-anchor="start" style="" fill="#111" stroke="#111" stroke-width="0.35" xml:space="preserve">S5</text>
</svg></body></html>
